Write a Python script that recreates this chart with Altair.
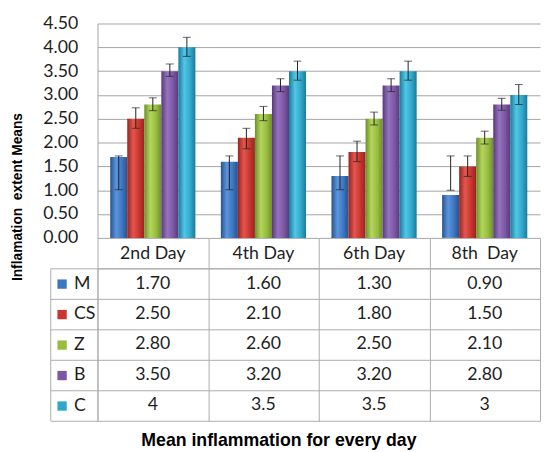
import altair as alt
import pandas as pd

days = ["2nd Day", "4th Day", "6th Day", "8th\u00a0 Day"]
groups = ["M", "CS", "Z", "B", "C"]

means = {
    "M": [1.70, 1.60, 1.30, 0.90],
    "CS": [2.50, 2.10, 1.80, 1.50],
    "Z": [2.80, 2.60, 2.50, 2.10],
    "B": [3.50, 3.20, 3.20, 2.80],
    "C": [4.0, 3.5, 3.5, 3.0],
}
err_low = {
    "M": [1.01, 1.01, 1.01, 1.00],
    "CS": [2.30, 1.87, 1.60, 1.29],
    "Z": [2.67, 2.46, 2.37, 1.97],
    "B": [3.39, 3.07, 3.07, 2.68],
    "C": [3.81, 3.31, 3.31, 2.80],
}
err_high = {
    "M": [1.72, 1.72, 1.72, 1.72],
    "CS": [2.73, 2.30, 2.03, 1.72],
    "Z": [2.94, 2.76, 2.64, 2.24],
    "B": [3.65, 3.34, 3.34, 2.93],
    "C": [4.21, 3.71, 3.71, 3.22],
}
table_labels = {
    "M": ["1.70", "1.60", "1.30", "0.90"],
    "CS": ["2.50", "2.10", "1.80", "1.50"],
    "Z": ["2.80", "2.60", "2.50", "2.10"],
    "B": ["3.50", "3.20", "3.20", "2.80"],
    "C": ["4", "3.5", "3.5", "3"],
}
y_ticks = [0.0, 0.5, 1.0, 1.5, 2.0, 2.5, 3.0, 3.5, 4.0, 4.5]

base_colors = ["#3D76C1", "#C9352F", "#97BC40", "#7C57A4", "#31A8CB"]
edge_colors = ["#28528E", "#962420", "#6E8E2A", "#573A7C", "#1D7A98"]
light_colors = ["#5C95DC", "#E2574F", "#B3D65C", "#9673BE", "#52C6E6"]

rows = []
for s in groups:
    for i, d in enumerate(days):
        rows.append({"day": d, "series": s, "value": means[s][i],
                     "lo": err_low[s][i], "hi": err_high[s][i],
                     "label": table_labels[s][i]})
df = pd.DataFrame(rows)

FONT = "Lato"
TXT = "#1E1E1E"
GRID = "#A3A3A3"
LINE = "#ABABAB"
FS = 18

# ---------------- top: bars ----------------
x_top = alt.X("day:N", sort=days,
              scale=alt.Scale(domain=days, paddingInner=0.23, paddingOuter=0.115),
              axis=alt.Axis(title=None, labelFont=FONT, labelFontSize=FS, labelColor=TXT,
                            labelPadding=15.5, labelBaseline="middle", labelAngle=0,
                            ticks=False, domain=False, grid=False))
xoff = alt.XOffset("series:N", sort=groups,
                   scale=alt.Scale(domain=groups, paddingInner=0, paddingOuter=0))
y_scale = alt.Scale(domain=[0, 4.5], nice=False)
y_axis = alt.Axis(values=y_ticks, format=".2f", title="Inflamation\u00a0 extent Means",
                  titleFont="Liberation Sans", titleFontSize=14, titleFontWeight="bold",
                  titleColor="#000000", titleAngle=270, titleX=-81, titleY=176,
                  titleAlign="center", titleBaseline="middle",
                  labelFont=FONT, labelFontSize=FS, labelColor=TXT, labelPadding=20,
                  labelOverlap=False, labelFlush=False,
                  ticks=False, tickSize=0, domainColor=GRID, gridColor=GRID,
                  grid=True)


def yq(field):
    return alt.Y(field, type="quantitative", scale=y_scale, axis=y_axis)


layers = []
for k, s in enumerate(groups):
    grad = alt.LinearGradient(
        gradient="linear", x1=0, x2=1, y1=0, y2=0,
        stops=[alt.GradientStop(color=edge_colors[k], offset=0),
               alt.GradientStop(color=light_colors[k], offset=0.35),
               alt.GradientStop(color=base_colors[k], offset=0.7),
               alt.GradientStop(color=edge_colors[k], offset=1)])
    layers.append(
        alt.Chart(df).transform_filter(alt.datum.series == s)
        .mark_bar(color=grad)
        .encode(x=x_top, xOffset=xoff, y=yq("value"))
    )

err_rule = alt.Chart(df).mark_rule(color="#222222", strokeWidth=1).encode(
    x=x_top, xOffset=xoff, y=yq("lo"), y2=alt.Y2("hi"))
cap_hi = alt.Chart(df).mark_tick(color="#222222", thickness=1, size=8).encode(
    x=x_top, xOffset=xoff, y=yq("hi"))
cap_lo = alt.Chart(df).mark_tick(color="#222222", thickness=1, size=8).encode(
    x=x_top, xOffset=xoff, y=yq("lo"))

legend_layer = alt.Chart(df).mark_square(size=0, opacity=0).encode(
    x=x_top, xOffset=xoff, y=yq("value"),
    color=alt.Color("series:N", sort=groups,
                    scale=alt.Scale(domain=groups, range=base_colors),
                    legend=alt.Legend(orient="none", legendX=-45, legendY=256, title=None,
                                      labelFont=FONT, labelFontSize=FS, labelColor=TXT,
                                      symbolType="square", symbolSize=90, symbolOpacity=1,
                                      symbolStrokeWidth=0, rowPadding=13, labelOffset=3,
                                      padding=0, direction="vertical")))

top = alt.layer(*layers, err_rule, cap_hi, cap_lo, legend_layer).properties(width=450, height=218)

# ---------------- bottom: data table ----------------
x_scale_b = alt.Scale(domain=days, paddingInner=0, paddingOuter=0)
y_scale_b = alt.Scale(domain=groups, paddingInner=0, paddingOuter=0)

text_layer = alt.Chart(df).mark_text(font=FONT, fontSize=FS, color=TXT).encode(
    x=alt.X("day:N", sort=days, scale=x_scale_b,
            axis=alt.Axis(orient="top", title=None, labels=False, ticks=True,
                          tickBand="extent", tickSize=31, tickColor=LINE,
                          domainColor=LINE, grid=True, gridColor=LINE)),
    y=alt.Y("series:N", sort=groups, scale=y_scale_b,
            axis=alt.Axis(orient="left", title=None, labels=False, ticks=True,
                          tickBand="extent", tickSize=48, tickColor=LINE,
                          domainColor=LINE, grid=True, gridColor=LINE)),
    text="label:N")

frame_layer = alt.Chart(df).mark_text(opacity=0).encode(
    x=alt.X("day:N", sort=days, scale=x_scale_b,
            axis=alt.Axis(orient="bottom", title="Mean inflammation for every day",
                          labels=False, ticks=False, domain=False, grid=False,
                          titleFont="Liberation Sans", titleFontSize=18,
                          titleFontWeight="bold", titleColor="#000000",
                          titleX=184, titleY=25, titleBaseline="alphabetic",
                          titleAlign="center")),
    y=alt.Y("series:N", sort=groups, scale=y_scale_b,
            axis=alt.Axis(orient="left", offset=48, title=None, labels=False,
                          ticks=False, grid=False, domainColor=LINE)),
    text="label:N")

bottom = alt.layer(text_layer, frame_layer).resolve_axis(
    x="independent", y="independent").properties(width=450, height=155)

chart = alt.vconcat(top, bottom, spacing=31, bounds="flush").properties(
    padding={"left": 3, "top": 3, "right": 0, "bottom": 0}
).configure_view(stroke=None)

chart.save("out.html", embed_options={"renderer": "svg", "actions": False})
